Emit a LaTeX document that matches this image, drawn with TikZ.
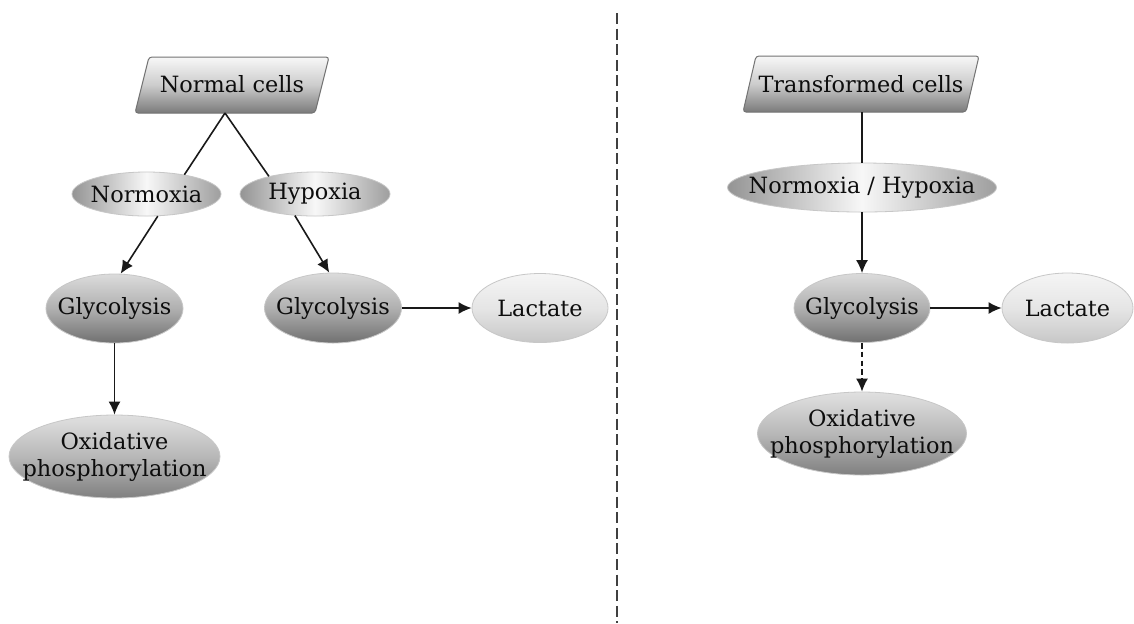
\documentclass[tikz,border=0pt]{standalone}
\usepackage{fontspec}
\setmainfont{DejaVu Serif}
\usetikzlibrary{shapes.geometric,arrows.meta}
\begin{document}
\begin{tikzpicture}[x=0.5pt,y=-0.5pt,
  lbl/.style={font=\fontsize{11.2}{13.5}\selectfont, text=black!95, align=center, inner sep=0pt},
  every node/.style={font=\fontsize{11.2}{13.5}\selectfont, text=black!95},
  txt/.style={label={[lbl]center:{#1}}},
  base/.style={ellipse, inner sep=0pt, draw=black!22, line width=0.4pt},
  cellbox/.style={draw=black!55, line width=0.5pt, rounded corners=1.5pt,
    top color=black!3, bottom color=black!52, middle color=black!20},
  cond/.style={base, left color=black!42, right color=black!38, middle color=black!3},
  glyco/.style={base, top color=black!14, bottom color=black!56, middle color=black!31},
  oxid/.style={base, top color=black!12, bottom color=black!50, middle color=black!28},
  lact/.style={base, top color=black!4, bottom color=black!22, middle color=black!10},
  conn/.style={line width=0.8pt, draw=black!90},
  arr/.style={conn, -{Latex[length=6.5pt,width=6pt]}},
  darr/.style={arr, dash pattern=on 2.8pt off 1.6pt},
  divider/.style={line width=1pt, draw=black!75, dash pattern=on 5.5pt off 2.3pt}
]
\useasboundingbox (0,0) rectangle (1134,623);
\fill[white] (0,0) rectangle (1134,623);

% left panel
\path[cellbox] (149,57) -- (329,57) -- (315,113) -- (135,113) -- cycle;
\node (nc) at (232,84) {Normal cells};
\coordinate (ncb) at (225,113);
\node[cond, minimum width=74.5pt, minimum height=22pt, txt=Normoxia] (norm) at (146.5,194) {};
\node[cond, minimum width=75pt, minimum height=22pt, txt=Hypoxia] (hyp) at (315,194) {};
\node[glyco, minimum width=68.5pt, minimum height=34.5pt, txt=Glycolysis] (g1) at (114.5,308.5) {};
\node[glyco, minimum width=68.5pt, minimum height=35pt, txt=Glycolysis] (g2) at (333,308) {};
\node[lact, minimum width=68pt, minimum height=34.5pt, txt=Lactate] (lac1) at (540,308) {};
\node[oxid, minimum width=105.5pt, minimum height=41.5pt, txt={Oxidative\\phosphorylation}] (ox1) at (114.5,456.5) {};

\draw[conn] (ncb) -- (norm.27);
\draw[conn] (ncb) -- (hyp.159);
\draw[arr] (norm.-63) -- (g1.80);
\draw[arr] (hyp.-133) -- (g2.96);
\draw[arr] (g2.east) -- (lac1.west);
\draw[arr] (g1.south) -- (ox1.north);

% divider
\coordinate (dtop) at (616.5,13);
\coordinate (dbot) at (616.5,623);
\draw[divider] (dtop) -- (dbot);

% right panel
\path[cellbox] (756,56) -- (979,56) -- (966,112) -- (743,112) -- cycle;
\node (tc) at (861,84) {Transformed cells};
\coordinate (tcb) at (862,112);
\node[cond, minimum width=134.5pt, minimum height=24.5pt, txt={Normoxia / Hypoxia}] (nh) at (862,187.5) {};
\node[glyco, minimum width=68pt, minimum height=34.5pt, txt=Glycolysis] (g3) at (862,308) {};
\node[lact, minimum width=65.5pt, minimum height=35pt, txt=Lactate] (lac2) at (1067.5,308) {};
\node[oxid, minimum width=104.5pt, minimum height=41.5pt, txt={Oxidative\\phosphorylation}] (ox2) at (862,433.5) {};

\draw[conn] (tcb) -- (nh.north);
\draw[arr] (nh.south) -- (g3.north);
\draw[arr] (g3.east) -- (lac2.west);
\draw[darr] (g3.south) -- (ox2.north);
\end{tikzpicture}
\end{document}
